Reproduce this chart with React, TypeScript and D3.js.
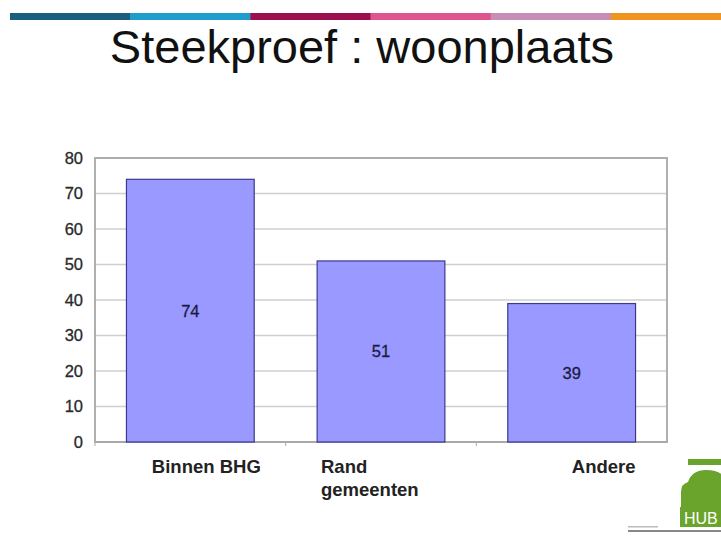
import React from "react";
import * as d3 from "d3";

const categories = ["Binnen BHG", "Rand gemeenten", "Andere"];
const categoryLines = [["Binnen BHG"], ["Rand", "gemeenten"], ["Andere"]];
const values = [74, 51, 39];
const yTicks = [0, 10, 20, 30, 40, 50, 60, 70, 80];
const title = "Steekproef : woonplaats";
const stripeColors = ["#1b5f7e", "#1f9dcc", "#9c0f4f", "#de548f", "#c78db6", "#ef951f"];

// layout
const W = 721, H = 538;
const plot = { left: 95, right: 667, top: 158, bottom: 442 };
const labelDx = [16, -60, 32];
const labelAnchor = ["middle", "start", "middle"];

export default function App() {
  const x = d3.scaleBand<string>().domain(categories).range([plot.left, plot.right]).paddingInner(0.33).paddingOuter(0.165);
  const y = d3.scaleLinear().domain([0, 80]).range([plot.bottom, plot.top]);
  const stripe = d3.scaleBand<number>().domain(d3.range(stripeColors.length)).range([10, 731]);
  const font = "Liberation Sans, Arial, sans-serif";

  return (
    <svg width={W} height={H} style={{ position: "absolute", left: 0, top: 0, background: "#fff" }} fontFamily={font}>
      <rect x={0} y={0} width={W} height={H} fill="#fff" />
      {stripeColors.map((c, i) => (
        <rect key={i} x={stripe(i)} y={13} width={stripe.bandwidth() + 0.5} height={7} fill={c} />
      ))}
      <text x={362} y={63} textAnchor="middle" fontSize={47} fill="#111">{title}</text>

      {/* gridlines */}
      {yTicks.map((t) => (
        <line key={t} x1={plot.left} x2={plot.right} y1={y(t)} y2={y(t)} stroke={t === 0 ? "#9a9a9a" : "#cfcfcf"} strokeWidth={1.5} />
      ))}
      <rect x={plot.left} y={plot.top} width={plot.right - plot.left} height={plot.bottom - plot.top} fill="none" stroke="#a8a8a8" strokeWidth={1.8} />
      {yTicks.map((t) => (
        <text key={t} x={plot.left - 12} y={y(t)} dy="0.36em" textAnchor="end" fontSize={16.5} fill="#2a2a2a" stroke="#2a2a2a" strokeWidth={0.3}>{t}</text>
      ))}
      {categories.map((c) => (
        <line key={c} x1={(x(c) as number) - x.step() * 0.165} x2={(x(c) as number) - x.step() * 0.165} y1={plot.bottom} y2={plot.bottom + 4} stroke="#aaa" strokeWidth={1} />
      ))}

      {/* bars */}
      {categories.map((c, i) => (
        <g key={c}>
          <rect x={x(c)} y={y(values[i])} width={x.bandwidth()} height={y(0) - y(values[i])} fill="#9999ff" stroke="#3a3a8c" strokeWidth={1.2} />
          <text x={(x(c) as number) + x.bandwidth() / 2} y={(y(values[i]) + y(0)) / 2} dy="0.36em" textAnchor="middle" fontSize={16.5} fill="#1c1c40" stroke="#1c1c40" strokeWidth={0.3}>{values[i]}</text>
        </g>
      ))}

      {/* category labels */}
      {categories.map((c, i) => {
        const cx = (x(c) as number) + x.bandwidth() / 2 + labelDx[i];
        return (
          <text key={c} textAnchor={labelAnchor[i]} fontSize={18.5} fontWeight="bold" fill="#222">
            {categoryLines[i].map((l, j) => (
              <tspan key={j} x={cx} y={473 + j * 23}>{l}</tspan>
            ))}
          </text>
        );
      })}

      {/* HUB logo */}
      <g>
        <rect x={688} y={459} width={40} height={6} fill="#6aa42c" />
        <path d="M681,508 L681,492 Q681,484 688,482 Q692,470 706,470 Q721,470 724,478 L724,508 Z" fill="#6aa42c" />
        <rect x={680} y={507} width={45} height={20} fill="#6aa42c" />
        <text x={684} y={524} fontSize={16} fill="#fff" fontFamily={font}>HUB</text>
        <rect x={628} y={526} width={30} height={1.5} fill="#bbb" />
        <rect x={628} y={530} width={93} height={2} fill="#888" />
      </g>
    </svg>
  );
}
